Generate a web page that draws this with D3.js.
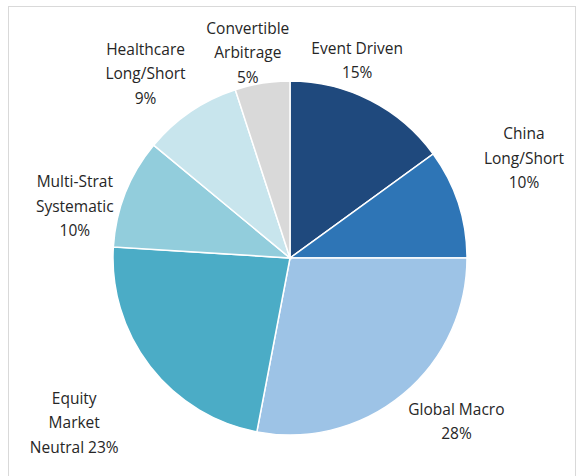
<!DOCTYPE html>
<html>
<head>
<meta charset="utf-8">
<script src="https://cdn.jsdelivr.net/npm/d3@7"></script>
<style>
  body { margin: 0; background: #fff; }
  svg { display: block; font-family: "Open Sans", "Noto Sans", sans-serif; }
</style>
</head>
<body>
<div id="chart"></div>
<script>
// 1: DATA
const categories = ["Event Driven", "China Long/Short", "Global Macro", "Equity Market Neutral",
                    "Multi-Strat Systematic", "Healthcare Long/Short", "Convertible Arbitrage"];
const shares = [15, 10, 28, 23, 10, 9, 5];
const labelLines = [
    ["Event Driven", "15%"],
    ["China", "Long/Short", "10%"],
    ["Global Macro", "28%"],
    ["Equity", "Market", "Neutral 23%"],
    ["Multi-Strat", "Systematic", "10%"],
    ["Healthcare", "Long/Short", "9%"],
    ["Convertible", "Arbitrage", "5%"]
];
const colors = ["#1f497d", "#2e75b6", "#9dc3e6", "#4bacc6", "#92cddc", "#c8e5ed", "#d9d9d9"];

// layout: label nudges off the outer label arc (like Excel's placement)
const labelNudge = [[-35, 3], [20, -30], [23, -10], [-38, 27], [-6, 31], [-18, 2], [-7, 17]];

// 2: SVG
const W = 582, H = 476;
const cx = 290, cy = 258, radius = 177;

const svg = d3.select("#chart").append("svg")
    .attr("width", W)
    .attr("height", H);

// chart frame
svg.append("rect")
    .attr("x", 8.5).attr("y", 6.5)
    .attr("width", 567).attr("height", 480)
    .attr("fill", "none")
    .attr("stroke", "#d9d9d9")
    .attr("stroke-width", 1);

const g = svg.append("g").attr("transform", `translate(${cx},${cy})`);

const data = categories.map((c, i) => ({ name: c, value: shares[i], i }));

const pie = d3.pie().sort(null).value(d => d.value);
const arc = d3.arc().innerRadius(0).outerRadius(radius);
const labelArc = d3.arc().innerRadius(225).outerRadius(225);

const arcs = pie(data);

// 3: SLICES
g.selectAll("path.slice")
    .data(arcs)
    .enter()
    .append("path")
    .attr("class", "slice")
    .attr("d", arc)
    .attr("fill", d => colors[d.data.i])
    .attr("stroke", "#fff")
    .attr("stroke-width", 1.5);

// 4: LABELS
const lineH = 24.5;
const labels = g.selectAll("text.lbl")
    .data(arcs)
    .enter()
    .append("text")
    .attr("class", "lbl")
    .attr("text-anchor", "middle")
    .attr("font-size", "15.5px")
    .attr("fill", "#262626")
    .attr("transform", d => {
        const [x, y] = labelArc.centroid(d);
        const n = labelNudge[d.data.i];
        return `translate(${x + n[0]},${y + n[1]})`;
    });

labels.each(function(d) {
    const lines = labelLines[d.data.i];
    const t = d3.select(this);
    lines.forEach((ln, k) => {
        t.append("tspan")
            .attr("x", 0)
            .attr("y", (k - (lines.length - 1) / 2) * lineH)
            .attr("dy", "0.35em")
            .text(ln);
    });
});
</script>
</body>
</html>
